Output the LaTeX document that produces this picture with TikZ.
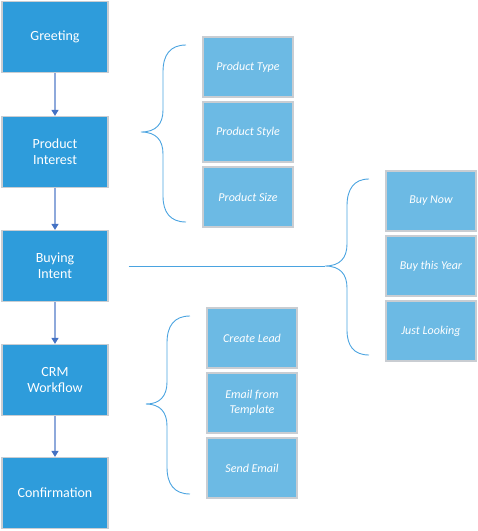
\documentclass[tikz,border=0pt]{standalone}
\usepackage{fontspec}
\setmainfont{Carlito}
\usetikzlibrary{arrows.meta}
\definecolor{stepblue}{HTML}{2E9CDB}
\definecolor{subblue}{HTML}{6CBAE4}
\definecolor{boxedge}{HTML}{C9CDD2}
\definecolor{flowline}{HTML}{8EA9DB}
\definecolor{flowtip}{HTML}{4472C4}
\definecolor{braceblue}{HTML}{4AA3E0}

\begin{document}
\begin{tikzpicture}[x=1pt,y=-1pt,
  stepbox/.style={draw=boxedge,line width=1.2pt,fill=stepblue,text=white,
    minimum width=106,minimum height=71,align=center,
    font=\fontsize{14}{16}\selectfont},
  subbox/.style={draw=boxedge,line width=1.2pt,fill=subblue,text=white,
    minimum width=90,minimum height=60,align=center,
    font=\fontsize{12}{15}\selectfont\itshape},
  flow/.style={flowline,line width=1.3pt,-{Triangle[length=6pt,width=7pt,color=flowtip]}},
  bracket/.style={braceblue,line width=0.9pt}]
\useasboundingbox (0,0) rectangle (478,531);

%main steps
\node[stepbox] (greet) at (55,37) {Greeting};
\node[stepbox] (interest) at (55,152) {Product\\Interest};
\node[stepbox] (intent) at (55,266) {Buying\\Intent};
\node[stepbox] (crm) at (55,380) {CRM\\Workflow};
\node[stepbox] (confirm) at (55,493) {Confirmation};

\draw[flow] (greet) -- (interest);
\draw[flow] (interest) -- (intent);
\draw[flow] (intent) -- (crm);
\draw[flow] (crm) -- (confirm);

%product details
\node[subbox] (ptype) at (248,67) {Product Type};
\node[subbox] (pstyle) at (248,132) {Product Style};
\node[subbox] (psize) at (248,197) {Product Size};

%buying options
\node[subbox] (buynow) at (431,201) {Buy Now};
\node[subbox] (buyyear) at (431,266) {Buy this Year};
\node[subbox] (looking) at (431,331) {Just Looking};

%crm actions
\node[subbox] (lead) at (252,338) {Create Lead};
\node[subbox] (template) at (252,403) {Email from\\Template};
\node[subbox] (send) at (252,468) {Send Email};

%braces
\coordinate (ptip) at (141,132);
\coordinate (btip) at (325,266);
\coordinate (ctip) at (146,404);

\draw[bracket] (186,45) .. controls (170,45) and (163,55) .. (163,72) -- (163,110)
  .. controls (163,124) and (156,132) .. (ptip)
  .. controls (156,132) and (163,140) .. (163,154) -- (163,196)
  .. controls (163,212) and (170,222) .. (186,222);

\draw[bracket] (369,179) .. controls (354,179) and (347,189) .. (347,206) -- (347,244)
  .. controls (347,258) and (340,266) .. (btip)
  .. controls (340,266) and (347,274) .. (347,288) -- (347,330)
  .. controls (347,346) and (354,355) .. (369,355);

\draw[bracket] (190,316) .. controls (174,316) and (167,326) .. (167,343) -- (167,382)
  .. controls (167,396) and (160,404) .. (ctip)
  .. controls (160,404) and (167,412) .. (167,426) -- (167,467)
  .. controls (167,484) and (174,494) .. (190,494);

\draw[bracket] ([xshift=20pt]intent.east) -- (btip);
\end{tikzpicture}
\end{document}
